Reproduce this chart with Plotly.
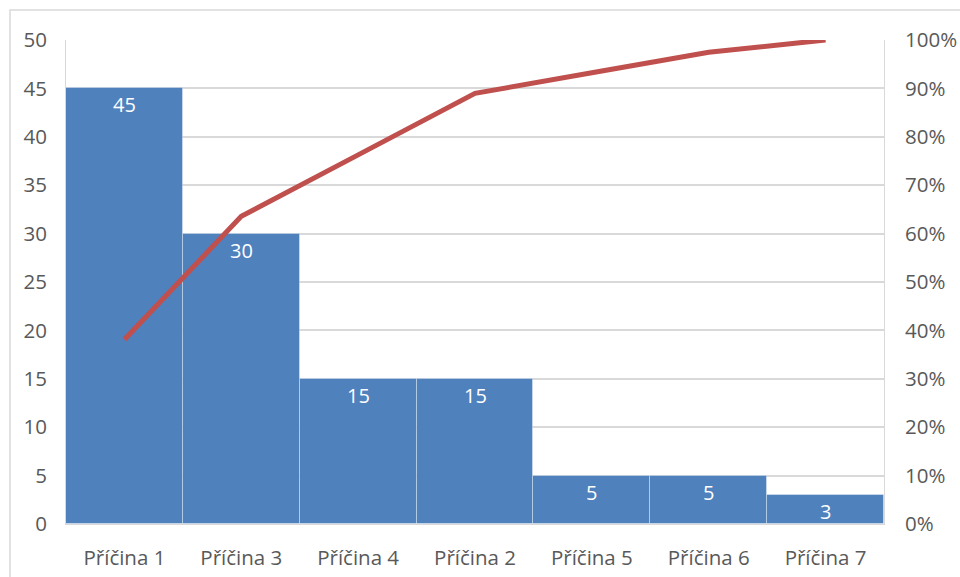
import plotly.graph_objects as go

# Pareto data: causes sorted by count, plus cumulative share
categories = ["Příčina 1", "Příčina 3", "Příčina 4", "Příčina 2", "Příčina 5", "Příčina 6", "Příčina 7"]
counts = [45, 30, 15, 15, 5, 5, 3]
left_ticks = [0, 5, 10, 15, 20, 25, 30, 35, 40, 45, 50]
right_ticks = [0, 0.1, 0.2, 0.3, 0.4, 0.5, 0.6, 0.7, 0.8, 0.9, 1.0]

total = sum(counts)
cumulative = []
running = 0
for c in counts:
    running += c
    cumulative.append(running / total)

FONT = "Open Sans"
TICK_COLOR = "#595959"
GRID = "#d9d9d9"
TICK_SIZE = 20.5

fig = go.Figure()

fig.add_trace(go.Bar(
    x=categories,
    y=counts,
    marker=dict(color="#4F81BD", line=dict(color="rgba(255,255,255,0.35)", width=1)),
    showlegend=False,
))

fig.add_trace(go.Scatter(
    x=categories,
    y=cumulative,
    yaxis="y2",
    mode="lines",
    line=dict(color="#C0504D", width=5),
    showlegend=False,
))

# value labels just inside the top of each bar
labels = [
    dict(
        x=cat, y=val, xref="x", yref="y",
        text=str(val), showarrow=False,
        yanchor="top", yshift=-1,
        font=dict(family=FONT, size=20, color="white"),
    )
    for cat, val in zip(categories, counts)
]

fig.update_layout(
    width=960,
    height=577,
    margin=dict(l=66, r=76, t=40, b=53),
    paper_bgcolor="white",
    plot_bgcolor="white",
    bargap=0,
    font=dict(family=FONT, size=TICK_SIZE, color=TICK_COLOR),
    annotations=labels,
    xaxis=dict(
        showgrid=False,
        showline=True,
        linecolor=GRID,
        ticks="",
        automargin=False,
        ticklabelstandoff=15,
        tickfont=dict(size=TICK_SIZE, color=TICK_COLOR),
    ),
    yaxis=dict(
        range=[0, 50],
        tickvals=left_ticks,
        showgrid=True,
        gridcolor=GRID,
        gridwidth=1.5,
        showline=True,
        linecolor=GRID,
        zeroline=False,
        ticks="",
        automargin=False,
        ticklabelstandoff=14,
        tickfont=dict(size=TICK_SIZE, color=TICK_COLOR),
    ),
    yaxis2=dict(
        overlaying="y",
        side="right",
        range=[0, 1],
        tickvals=right_ticks,
        tickformat=".0%",
        showgrid=False,
        showline=True,
        linecolor=GRID,
        zeroline=False,
        ticks="",
        automargin=False,
        ticklabelstandoff=16,
        tickfont=dict(size=TICK_SIZE, color=TICK_COLOR),
    ),
    shapes=[
        dict(
            type="rect", xref="paper", yref="paper",
            x0=(10 - 66) / 818, x1=1.2,
            y0=-0.2, y1=(524 - 10) / 484,
            line=dict(color=GRID, width=1.5),
            layer="below",
        )
    ],
)

fig.write_html("out.html")
